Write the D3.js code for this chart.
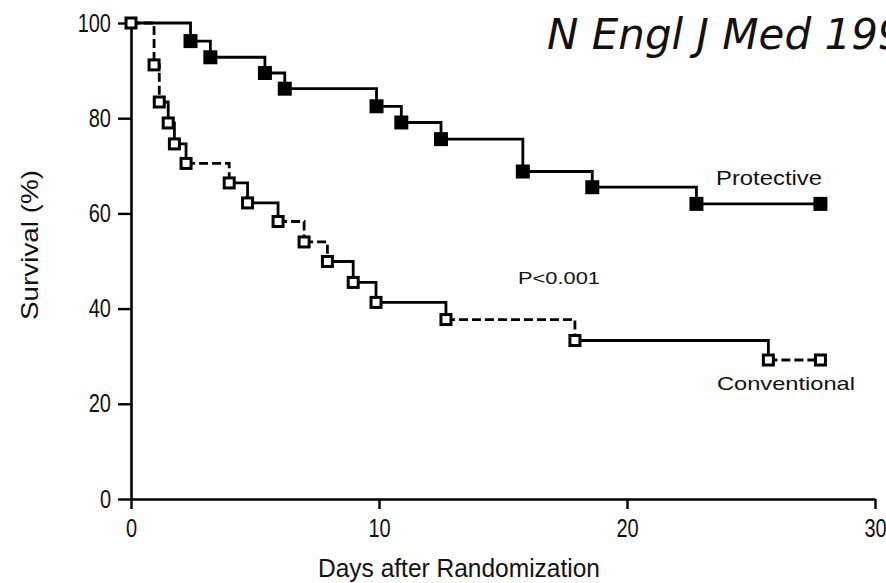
<!DOCTYPE html>
<html>
<head>
<meta charset="utf-8">
<script src="https://cdn.jsdelivr.net/npm/d3@7"></script>
<style>
  html, body { margin: 0; padding: 0; background: #fff; overflow: hidden; }
  svg { display: block; }
  text { font-family: "Liberation Sans", Arial, sans-serif; fill: #111; }
</style>
</head>
<body>
<svg id="chart" width="886" height="583"></svg>
<script>
// ---- data ----
const protDays = [0, 2.4, 3.2, 5.4, 6.2, 9.9, 10.9, 12.5, 15.8, 18.6, 22.8, 27.8];
const protSurv = [100, 96.2, 92.8, 89.5, 86.2, 82.5, 79.1, 75.6, 68.8, 65.5, 62.0, 62.0];
const convDays = [0, 0.93, 1.14, 1.5, 1.75, 2.22, 3.96, 4.7, 5.93, 6.98, 7.92, 8.96, 9.88, 12.7, 17.9, 25.7, 27.8];
const convSurv = [100, 91.2, 83.4, 79.0, 74.6, 70.5, 66.4, 62.2, 58.3, 54.0, 49.9, 45.5, 41.3, 37.7, 33.3, 29.2, 29.2];
const xTicks = [0, 10, 20, 30];
const yTicks = [0, 20, 40, 60, 80, 100];
const seriesNames = ["Protective", "Conventional"];
const titleText = "N Engl J Med 1998";
const pText = "P<0.001";
const xLabel = "Days after Randomization";
const yLabel = "Survival (%)";
// steps of the conventional curve drawn dashed (index of the step end point)
const convDashedSteps = [1, 2, 6, 9, 10, 14, 16];

const svg = d3.select("#chart");
const x = d3.scaleLinear().domain([0, 30]).range([131, 875]);
const y = d3.scaleLinear().domain([0, 100]).range([499, 23]);

function condense(sel, f) {
  sel.each(function () {
    const w = this.getComputedTextLength();
    d3.select(this).attr("textLength", w * f).attr("lengthAdjust", "spacingAndGlyphs");
  });
}

// axes
const gx = svg.append("g").attr("transform", `translate(0,${y(0)})`)
  .call(d3.axisBottom(x).tickValues(xTicks).tickSize(10).tickSizeOuter(0).tickPadding(10).tickFormat(d3.format("d")));
const gy = svg.append("g").attr("transform", `translate(${x(0)},0)`)
  .call(d3.axisLeft(y).tickValues(yTicks).tickSize(13).tickSizeOuter(0).tickPadding(7).tickFormat(d3.format("d")));
[gx, gy].forEach(g => {
  g.select(".domain").attr("stroke", "#000").attr("stroke-width", 2.6);
  g.selectAll(".tick line").attr("stroke", "#000").attr("stroke-width", 2.4);
  g.selectAll(".tick text").attr("font-size", 25).attr("fill", "#222")
    .style("font-family", "'Liberation Sans', Arial, sans-serif");
});
condense(gx.selectAll(".tick text"), 0.8);
condense(gy.selectAll(".tick text"), 0.8);

// step curves
const line = d3.line().x(d => x(d[0])).y(d => y(d[1])).curve(d3.curveStepAfter);
const prot = protDays.map((d, i) => [d, protSurv[i]]);
const conv = convDays.map((d, i) => [d, convSurv[i]]);

svg.append("path").attr("d", line(prot)).attr("fill", "none")
  .attr("stroke", "#000").attr("stroke-width", 2.8);

for (let i = 1; i < conv.length; i++) {
  svg.append("path").attr("d", line([conv[i - 1], conv[i]])).attr("fill", "none")
    .attr("stroke", "#000").attr("stroke-width", 2.8)
    .attr("stroke-dasharray", convDashedSteps.includes(i) ? "9,4" : null);
}

// markers
svg.append("g").selectAll("rect").data(prot.slice(1)).join("rect")
  .attr("x", d => x(d[0]) - 7).attr("y", d => y(d[1]) - 7)
  .attr("width", 14).attr("height", 14).attr("fill", "#000");

svg.append("g").selectAll("rect").data(conv).join("rect")
  .attr("x", d => x(d[0]) - 5).attr("y", d => y(d[1]) - 5)
  .attr("width", 10).attr("height", 10).attr("fill", "#fff")
  .attr("stroke", "#000").attr("stroke-width", 3);

// texts
svg.append("text").attr("x", 547).attr("y", 49)
  .attr("font-size", 42).attr("font-style", "italic")
  .style("font-family", "'DejaVu Sans', sans-serif")
  .text(titleText);

svg.append("text").attr("x", 716).attr("y", 185).attr("font-size", 20)
  .attr("textLength", 106).attr("lengthAdjust", "spacingAndGlyphs").text(seriesNames[0]);
svg.append("text").attr("x", 717).attr("y", 390).attr("font-size", 19)
  .attr("textLength", 138).attr("lengthAdjust", "spacingAndGlyphs").text(seriesNames[1]);
svg.append("text").attr("x", 518).attr("y", 284).attr("font-size", 16)
  .attr("textLength", 82).attr("lengthAdjust", "spacingAndGlyphs").text(pText);

svg.append("text").attr("x", 318).attr("y", 577).attr("font-size", 26)
  .attr("textLength", 282).attr("lengthAdjust", "spacingAndGlyphs").text(xLabel);

svg.append("text").attr("transform", "translate(38,245) rotate(-90)")
  .attr("text-anchor", "middle").attr("font-size", 24)
  .attr("textLength", 150).attr("lengthAdjust", "spacingAndGlyphs").text(yLabel);
</script>
</body>
</html>
